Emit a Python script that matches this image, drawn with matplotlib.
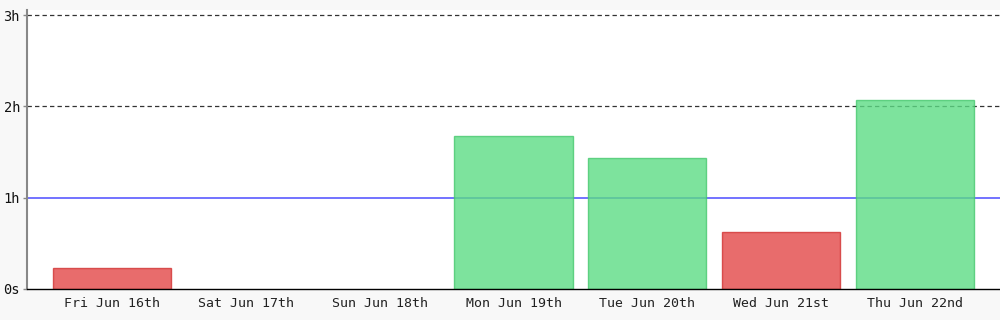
import matplotlib
matplotlib.use("Agg")
import matplotlib.pyplot as plt

categories = ["Fri Jun 16th", "Sat Jun 17th", "Sun Jun 18th", "Mon Jun 19th",
              "Tue Jun 20th", "Wed Jun 21st", "Thu Jun 22nd"]
hours = [0.23, 0.0, 0.0, 1.67, 1.43, 0.62, 2.07]
goal_hours = 1.0
ytick_values = [0, 1, 2, 3]
ytick_labels = ["0s", "1h", "2h", "3h"]

plt.rcParams['font.family'] = ['DejaVu Sans Mono']

fig = plt.figure(figsize=(10, 3.2), dpi=100, facecolor="#f8f8f8")
ax = fig.add_axes([0.027, 1 - 289 / 320, 0.973, 279 / 320])
ax.set_facecolor("white")

# reference lines
ax.axhline(goal_hours, color="#5a5aff", lw=1.2, zorder=1)
for v in (2, 3):
    ax.axhline(v, color="#333333", lw=0.9, linestyle=(0, (3.5, 2.5)), zorder=1)

x = list(range(len(categories)))
faces = []
edges = []
widths = []
for h in hours:
    if h >= goal_hours:
        faces.append((93/255, 220/255, 133/255, 0.8))
        edges.append((70/255, 200/255, 110/255, 0.8))
    else:
        faces.append((227/255, 71/255, 71/255, 0.8))
        edges.append((210/255, 50/255, 50/255, 0.8))
    widths.append(1 if h > 0 else 0)
ax.bar(x, hours, width=0.883, color=faces, edgecolor=edges, linewidth=widths, zorder=2)

ax.set_xlim(-0.635, 6.635)
ax.set_ylim(0, 3.055)
ax.set_xticks(x)
ax.set_xticklabels(categories, fontsize=9.5, color="#222222")
ax.set_yticks(ytick_values)
ax.set_yticklabels(ytick_labels, fontsize=9.8, color="#111111")
ax.tick_params(axis="x", length=0, pad=6)
ax.tick_params(axis="y", length=3, width=1, color="#888888", pad=2)

for s in ("top", "right"):
    ax.spines[s].set_visible(False)
ax.spines["left"].set_color("#888888")
ax.spines["left"].set_linewidth(1.5)
ax.spines["bottom"].set_color("black")
ax.spines["bottom"].set_linewidth(1)
ax.spines["bottom"].set_zorder(3)

fig.savefig("out.png", dpi=100, facecolor=fig.get_facecolor())
